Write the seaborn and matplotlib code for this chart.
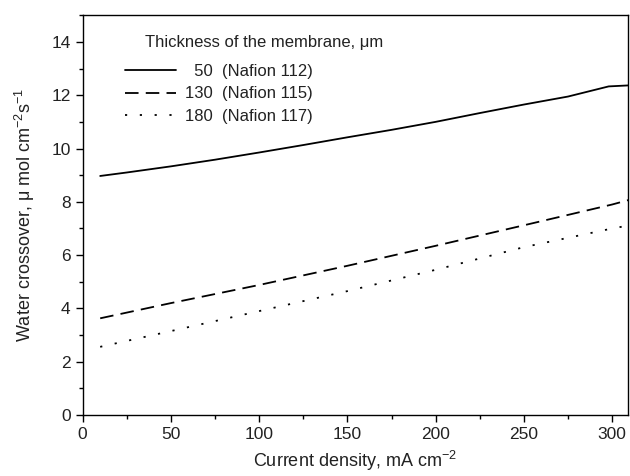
import numpy as np
import pandas as pd
import matplotlib
matplotlib.use("Agg")
import matplotlib.pyplot as plt
import seaborn as sns
from matplotlib.ticker import MultipleLocator

# Data
x_112 = [10, 25, 50, 75, 100, 125, 150, 175, 200, 225, 250, 275, 298, 310]
y_112 = [8.97, 9.1, 9.33, 9.58, 9.85, 10.13, 10.42, 10.7, 11.0, 11.33, 11.65, 11.95, 12.33, 12.37]
x_115 = [10, 50, 100, 150, 200, 250, 300, 310]
y_115 = [3.63, 4.2, 4.88, 5.6, 6.35, 7.12, 7.9, 8.08]
x_117 = [10, 50, 100, 150, 200, 250, 300, 310]
y_117 = [2.56, 3.15, 3.9, 4.65, 5.45, 6.3, 7.0, 7.12]
labels = ["50  (Nafion 112)", "130  (Nafion 115)", "180  (Nafion 117)"]
legend_title = "Thickness of the membrane, \u03bcm"

sns.set_theme(style="white")
plt.rcParams['font.family'] = ['Liberation Sans', 'DejaVu Sans']
plt.rcParams['mathtext.fontset'] = 'custom'
plt.rcParams['mathtext.rm'] = 'Liberation Sans'

TXT = "#222222"
fig = plt.figure(figsize=(6.3, 4.76), dpi=100)
ax = fig.add_axes([0.131, 0.128, 0.866, 0.840])

series = [(x_112, y_112, labels[0], None),
          (x_115, y_115, labels[1], (7.5, 4)),
          (x_117, y_117, labels[2], (1.2, 7))]
handles = []
for xs, ys, lab, dash in series:
    df = pd.DataFrame({"x": xs, "y": ys})
    sns.lineplot(data=df, x="x", y="y", ax=ax, color="black", linewidth=1.3, legend=False)
    ln = ax.lines[-1]
    if dash is not None:
        ln.set_dashes(dash)
    handles.append(ln)

ax.set_xlim(0, 309)
ax.set_ylim(0, 15)
ax.xaxis.set_major_locator(MultipleLocator(50))
ax.xaxis.set_minor_locator(MultipleLocator(25))
ax.yaxis.set_major_locator(MultipleLocator(2))
ax.yaxis.set_minor_locator(MultipleLocator(1))
ax.tick_params(which="both", direction="out", bottom=True, left=True, top=False, right=False,
               color="black", labelsize=12.5, labelcolor=TXT)
ax.tick_params(which="major", length=5, width=1)
ax.tick_params(which="minor", length=3, width=1)
for s in ax.spines.values():
    s.set_color("black")
    s.set_linewidth(1.0)

ax.set_xlabel("Current density, mA cm$^{-2}$", fontsize=13, color=TXT, labelpad=5)
ax.set_ylabel("Water crossover, \u03bc mol cm$^{-2}$s$^{-1}$", fontsize=13, color=TXT, labelpad=10)

ax.text(0.115, 0.932, legend_title, transform=ax.transAxes, fontsize=12, color=TXT,
        ha="left", va="center")
leg = ax.legend(handles, ["\u2007" + labels[0], labels[1], labels[2]],
                loc="upper left", bbox_to_anchor=(0.065, 0.895), frameon=False,
                fontsize=12, handlelength=3.1, handletextpad=0.5,
                labelspacing=0.45, borderaxespad=0)
for t in leg.get_texts():
    t.set_color(TXT)

fig.savefig("out.png", dpi=100)
